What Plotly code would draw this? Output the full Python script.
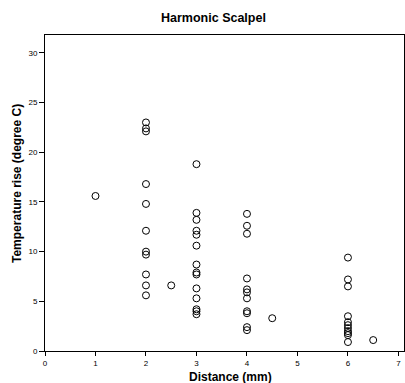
import plotly.graph_objects as go

distance = [1,
            2, 2, 2, 2, 2, 2, 2, 2, 2, 2, 2,
            2.5,
            3, 3, 3, 3, 3, 3, 3, 3, 3, 3, 3, 3, 3, 3,
            4, 4, 4, 4, 4, 4, 4, 4, 4, 4, 4,
            4.5,
            6, 6, 6, 6, 6, 6, 6, 6, 6, 6, 6,
            6.5]
temp_rise = [15.6,
             23.0, 22.4, 22.1, 16.8, 14.8, 12.1, 10.0, 9.7, 7.7, 6.6, 5.6,
             6.6,
             18.8, 13.9, 13.2, 12.1, 11.7, 10.6, 8.7, 7.9, 7.7, 6.3, 5.3, 4.2, 4.0, 3.7,
             13.8, 12.6, 11.8, 7.3, 6.2, 5.9, 5.3, 4.0, 3.8, 2.4, 2.1,
             3.3,
             9.4, 7.2, 6.5, 3.5, 2.9, 2.6, 2.3, 2.0, 1.8, 1.6, 0.9,
             1.1]

x_ticks = [0, 1, 2, 3, 4, 5, 6, 7]
y_ticks = [0, 5, 10, 15, 20, 25, 30]

fig = go.Figure(go.Scatter(
    x=distance, y=temp_rise, mode="markers",
    marker=dict(symbol="circle-open", size=7, color="black", line=dict(width=1, color="black")),
    showlegend=False))

font_family = "Liberation Sans, Arial, sans-serif"
fig.update_layout(
    width=405, height=383,
    margin=dict(l=45, r=1, t=35, b=32),
    paper_bgcolor="white", plot_bgcolor="white",
    font=dict(family=font_family, color="black"),
    annotations=[
        dict(text="<b>Harmonic Scalpel</b>", xref="paper", yref="paper",
             x=(213 - 45) / 359, y=(383 - 32 - 18) / 316, xanchor="center", yanchor="middle",
             showarrow=False, font=dict(size=12.5, color="black")),
        dict(text="<b>Distance (mm)</b>", xref="paper", yref="paper",
             x=(231 - 45) / 359, y=(383 - 32 - 377) / 316, xanchor="center", yanchor="middle",
             showarrow=False, font=dict(size=12, color="black")),
        dict(text="<b>Temperature rise (degree C)</b>", xref="paper", yref="paper", textangle=-90,
             x=(17 - 45) / 359, y=(383 - 32 - 184) / 316, xanchor="center", yanchor="middle",
             showarrow=False, font=dict(size=12, color="black")),
    ],
)
fig.update_xaxes(range=[0, 7.11], tickvals=x_ticks, ticks="outside", ticklen=4, tickcolor="black",
                 showline=True, linecolor="black", linewidth=1, mirror=True, showgrid=False, zeroline=False,
                 tickfont=dict(size=8, color="black"))
fig.update_yaxes(range=[0, 31.8], tickvals=y_ticks, ticks="outside", ticklen=5, tickcolor="black",
                 showline=True, linecolor="black", linewidth=1, mirror=True, showgrid=False, zeroline=False,
                 tickfont=dict(size=8, color="black"))

fig.write_html("out.html")
